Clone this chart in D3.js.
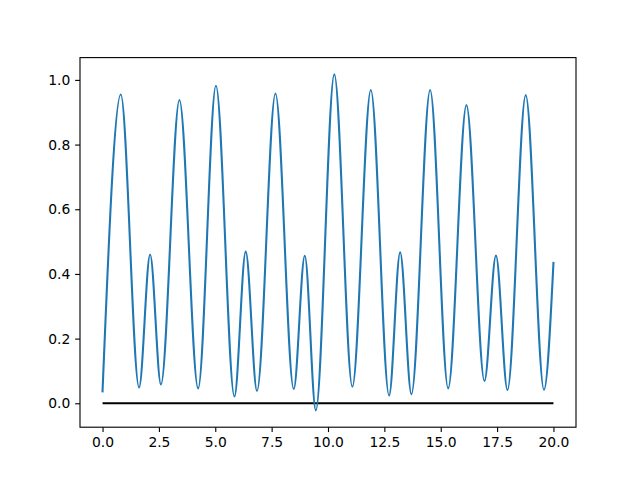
<!DOCTYPE html>
<html>
<head>
<meta charset="utf-8">
<script src="https://cdn.jsdelivr.net/npm/d3@7"></script>
<style>
  html, body { margin: 0; padding: 0; background: #fff; }
  svg { display: block; }
  .tick text { font-family: "DejaVu Sans", sans-serif; font-size: 13.89px; fill: #000; }
</style>
</head>
<body>
<svg id="chart" width="640" height="480"></svg>
<script>
// Series (local extrema plus endpoints)
const xValues = [0.00, 0.81, 1.62, 2.11, 2.59, 3.41, 4.24, 5.03, 5.85, 6.35, 6.85, 7.67, 8.48, 8.97, 9.46,
                 10.28, 11.08, 11.90, 12.71, 13.20, 13.70, 14.53, 15.33, 16.14, 16.94, 17.45, 17.96, 18.77, 19.58, 20.00];
const yValues = [0.037, 0.955, 0.049, 0.460, 0.058, 0.938, 0.046, 0.982, 0.021, 0.469, 0.038, 0.958, 0.044, 0.456, -0.022,
                 1.017, 0.051, 0.969, 0.024, 0.467, 0.028, 0.969, 0.046, 0.922, 0.069, 0.457, 0.041, 0.953, 0.042, 0.434];
const baselineX = [0, 20];
const baselineY = [0, 0];
const xTicks = [0, 2.5, 5, 7.5, 10, 12.5, 15, 17.5, 20];
const yTicks = [0, 0.2, 0.4, 0.6, 0.8, 1.0];

(function () {
const mLeft = 80, mRight = 576, mTop = 57.6, mBottom = 427.2;
const pt = 100 / 72;

const svg = d3.select("#chart");

const xmin = d3.min(xValues), xmax = d3.max(xValues);
const ymin = d3.min(yValues.concat(baselineY)), ymax = d3.max(yValues);
const xm = (xmax - xmin) * 0.05, ym = (ymax - ymin) * 0.05;

const x = d3.scaleLinear().domain([xmin - xm, xmax + xm]).range([mLeft, mRight]);
const y = d3.scaleLinear().domain([ymin - ym, ymax + ym]).range([mBottom, mTop]);

const line = d3.line().x(d => x(d[0])).y(d => y(d[1])).curve(d3.curveMonotoneX);

svg.append("defs").append("clipPath").attr("id", "clip")
  .append("rect").attr("x", mLeft).attr("y", mTop).attr("width", mRight - mLeft).attr("height", mBottom - mTop);

const plot = svg.append("g").attr("clip-path", "url(#clip)");

plot.append("path")
  .datum(baselineX.map((v, i) => [v, baselineY[i]]))
  .attr("d", d3.line().x(d => x(d[0])).y(d => y(d[1])))
  .attr("fill", "none").attr("stroke", "#000").attr("stroke-width", 1.5 * pt);

plot.append("path")
  .datum(xValues.map((v, i) => [v, yValues[i]]))
  .attr("d", line)
  .attr("fill", "none").attr("stroke", "#1f77b4").attr("stroke-width", 1.5 * pt)
  .attr("stroke-linejoin", "round").attr("stroke-linecap", "square");

const tickLen = 3.5 * pt, pad = 3.5 * pt;

const xAxis = svg.append("g").attr("transform", `translate(0,${mBottom})`)
  .call(d3.axisBottom(x).tickValues(xTicks).tickFormat(d3.format(".1f")).tickSizeInner(tickLen).tickSizeOuter(0).tickPadding(pad));
const yAxis = svg.append("g").attr("transform", `translate(${mLeft},0)`)
  .call(d3.axisLeft(y).tickValues(yTicks).tickFormat(d3.format(".1f")).tickSizeInner(tickLen).tickSizeOuter(0).tickPadding(pad));

[xAxis, yAxis].forEach(g => {
  g.select(".domain").remove();
  g.selectAll(".tick line").attr("stroke", "#000").attr("stroke-width", 0.8 * pt);
  g.attr("font-family", null).attr("font-size", null);
});

svg.append("rect").attr("x", mLeft).attr("y", mTop).attr("width", mRight - mLeft).attr("height", mBottom - mTop)
  .attr("fill", "none").attr("stroke", "#000").attr("stroke-width", 0.8 * pt);
})();
</script>
</body>
</html>
